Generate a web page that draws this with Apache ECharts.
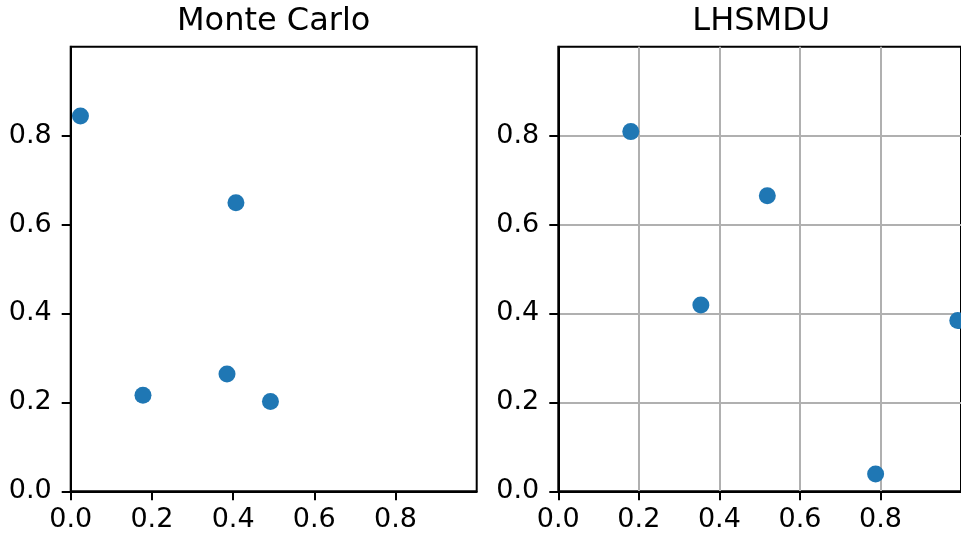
<!DOCTYPE html>
<html>
<head>
<meta charset="utf-8">
<script src="https://cdn.jsdelivr.net/npm/echarts@6/dist/echarts.min.js"></script>
<style>
  html, body { margin: 0; padding: 0; background: #fff; }
  #chart { width: 961px; height: 537px; }
</style>
</head>
<body>
<div id="chart"></div>
<script>
// Panel titles and shared tick positions
const panelTitles = ['Monte Carlo', 'LHSMDU'];
const tickValues = [0, 0.2, 0.4, 0.6, 0.8];

// Sample points for each sampling method
const monteCarloX = [0.024, 0.407, 0.178, 0.385, 0.492];
const monteCarloY = [0.844, 0.649, 0.216, 0.264, 0.202];
const lhsmduX = [0.180, 0.519, 0.354, 0.788, 0.992];
const lhsmduY = [0.809, 0.665, 0.419, 0.039, 0.384];

const FONT = 'DejaVu Sans';
const grids = [
  { left: 70.7, top: 46.7, width: 406, height: 444.6 },
  { left: 558.3, top: 46.7, width: 406, height: 444.6 }
];

function axis(gridIndex, showGrid, isX) {
  return {
    type: 'value',
    gridIndex: gridIndex,
    min: 0,
    max: 1,
    interval: 0.2,
    axisLine: { show: true, onZero: false, lineStyle: { color: '#000', width: 2 } },
    axisTick: {
      show: true,
      customValues: tickValues,
      length: 9,
      lineStyle: { color: '#000', width: 2 }
    },
    axisLabel: {
      customValues: tickValues,
      formatter: function (v) { return v.toFixed(1); },
      color: '#000',
      fontFamily: FONT,
      fontSize: 27,
      margin: isX ? 15 : 19
    },
    splitLine: { show: showGrid, lineStyle: { color: '#b0b0b0', width: 2 } }
  };
}

function pairs(xs, ys) {
  return xs.map(function (x, i) { return [x, ys[i]]; });
}

const chart = echarts.init(document.getElementById('chart'), null, { renderer: 'canvas' });
chart.setOption({
  animation: false,
  backgroundColor: '#fff',
  grid: grids.map(function (g) {
    return Object.assign({ show: true, borderColor: '#000', borderWidth: 2, backgroundColor: 'transparent' }, g);
  }),
  xAxis: [axis(0, false, true), axis(1, true, true)],
  yAxis: [axis(0, false, false), axis(1, true, false)],
  graphic: panelTitles.map(function (t, i) {
    return {
      type: 'text',
      x: grids[i].left + grids[i].width / 2,
      y: 6,
      style: {
        text: t,
        fill: '#000',
        font: '32px "' + FONT + '"',
        textAlign: 'center',
        textVerticalAlign: 'top'
      }
    };
  }),
  series: [
    {
      type: 'scatter', xAxisIndex: 0, yAxisIndex: 0,
      symbolSize: 17, itemStyle: { color: '#1f77b4', opacity: 1 },
      data: pairs(monteCarloX, monteCarloY)
    },
    {
      type: 'scatter', xAxisIndex: 1, yAxisIndex: 1,
      symbolSize: 17, itemStyle: { color: '#1f77b4', opacity: 1 },
      data: pairs(lhsmduX, lhsmduY)
    }
  ]
});
</script>
</body>
</html>
